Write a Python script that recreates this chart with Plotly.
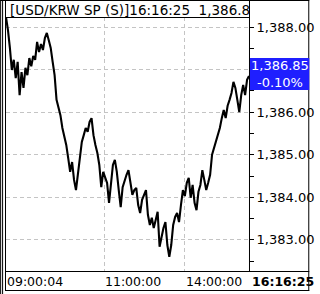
import plotly.graph_objects as go

# ---- data ----
prices = [
    1388.23, 1387.93, 1387.51, 1386.99, 1387.23, 1386.80, 1387.18, 1386.40, 1386.94, 1386.57,
    1387.04, 1386.87, 1387.27, 1387.08, 1387.32, 1387.23, 1387.65, 1387.41, 1387.60, 1387.46,
    1387.74, 1387.86, 1387.69, 1387.51, 1387.18, 1386.87, 1386.29, 1386.10, 1385.93, 1385.63,
    1385.46, 1385.23, 1384.92, 1384.60, 1384.83, 1384.41, 1384.17, 1384.60, 1384.88, 1385.30,
    1385.46, 1385.63, 1385.54, 1385.77, 1385.86, 1385.46, 1385.23, 1385.04, 1384.76, 1384.24,
    1384.60, 1384.46, 1384.34, 1383.87, 1384.41, 1384.76, 1384.88, 1384.60, 1384.17, 1383.77,
    1384.24, 1384.41, 1384.53, 1384.64, 1384.29, 1384.06, 1384.17, 1384.22, 1383.82, 1383.63,
    1383.94, 1384.06, 1384.17, 1383.59, 1383.35, 1383.52, 1383.28, 1383.47, 1383.66, 1382.84,
    1383.09, 1383.28, 1383.42, 1382.88, 1382.60, 1382.88, 1383.35, 1383.54, 1383.63, 1383.42,
    1383.82, 1384.17, 1384.03, 1384.34, 1384.46, 1383.99, 1384.29, 1383.87, 1383.70, 1384.13,
    1384.29, 1384.64, 1384.41, 1384.17, 1384.34, 1384.53, 1385.00, 1385.16, 1385.28, 1385.42,
    1385.63, 1385.86, 1386.05, 1385.86, 1386.15, 1386.29, 1386.45, 1386.71, 1386.57, 1386.29,
    1386.00, 1386.40, 1386.64, 1386.40, 1386.76, 1386.85,
]
time_labels = ["09:00:04", "11:00:00", "14:00:00"]
time_tick_index = [0, 50.5, 92]
last_time = "16:16:25"
price_ticks = [1383, 1384, 1385, 1386, 1387, 1388]
price_tick_text = ["1,383.00", "1,384.00", "1,385.00", "1,386.00", "", "1,388.00"]
title_text = "[USD/KRW SP (S)]16:16:25  1,386.8"
change_pct = -0.10

# ---- layout geometry (pixels) ----
W, H = 320, 294
L, R, T, B = 6, 64, 17, 23
PW, PH = W - L - R, H - T - B


def px(X):
    return (X - L) / PW


def py(Y):
    return 1 - (Y - T) / PH


FONT = "DejaVu Sans"
last = prices[-1]
xs = list(range(len(prices)))

fig = go.Figure()
fig.add_trace(go.Scatter(
    x=xs, y=prices, mode="lines",
    line=dict(color="black", width=2.1),
    hoverinfo="skip", showlegend=False,
))

fig.update_layout(
    width=W, height=H,
    margin=dict(l=L, r=R, t=T, b=B, pad=0),
    paper_bgcolor="white", plot_bgcolor="white",
    showlegend=False,
    xaxis=dict(
        range=[0, len(prices) - 1], tickvals=time_tick_index[1:],
        showticklabels=False, ticks="", showgrid=True,
        gridcolor="#c4c4c4", griddash="4px,3px", gridwidth=1,
        zeroline=False, showline=False, fixedrange=True,
    ),
    yaxis=dict(
        range=[1382.27, 1388.235], side="right",
        tickvals=price_ticks, ticktext=price_tick_text,
        ticks="outside", ticklen=4, tickcolor="black", tickwidth=1,
        minor=dict(dtick=0.5, ticks="outside", ticklen=4, tickcolor="black", showgrid=False),
        tickfont=dict(family=FONT, size=13, color="black"),
        showgrid=True, gridcolor="#c4c4c4", griddash="4px,3px", gridwidth=1,
        zeroline=False, showline=False, fixedrange=True,
    ),
)

black = dict(color="black", width=1)
lines = [
    (0, 0.5, 318, 0.5),
    (0.5, 0, 0.5, 294),
    (2.5, 0, 2.5, 294),
    (5.5, 0, 5.5, 291),
    (6, 17.5, 256, 17.5),
    (256.5, 0, 256.5, 271),
    (317.5, 0, 317.5, 291),
    (6, 271.5, 318, 271.5),
    (5.5, 290.5, 318, 290.5),
]
for x0, y0, x1, y1 in lines:
    fig.add_shape(type="line", xref="paper", yref="paper",
                  x0=px(x0), y0=py(y0), x1=px(x1), y1=py(y1),
                  line=black, layer="above")

# current price box
fig.add_shape(type="rect", xref="paper", yref="y",
              x0=px(257), x1=px(318), y0=last - 0.33, y1=last + 0.42,
              fillcolor="#1f1fff", line=dict(width=0), layer="above")
fig.add_annotation(xref="paper", yref="y", x=px(287.5), y=last + 0.045,
                   text=f"{last:,.2f}<br>{change_pct:.2f}%", showarrow=False,
                   xanchor="center", yanchor="middle", align="center",
                   font=dict(family=FONT, size=13, color="white"))

# title
fig.add_annotation(xref="paper", yref="paper", x=px(8), y=py(10),
                   text=title_text, showarrow=False, xanchor="left", yanchor="middle",
                   font=dict(family=FONT, size=13.5, color="black"))

# time labels
for lbl, idx in zip(time_labels, time_tick_index):
    fig.add_annotation(xref="x", yref="paper", x=idx, y=py(281.5), text=lbl,
                       showarrow=False, xanchor="left", yanchor="middle", xshift=-1,
                       font=dict(family=FONT, size=12.5, color="black"))
fig.add_annotation(xref="x", yref="paper", x=len(prices) - 1, y=py(281.5),
                   text=f"<b>{last_time}</b>", showarrow=False, xanchor="left",
                   yanchor="middle", xshift=1,
                   font=dict(family=FONT, size=12.5, color="black"))

fig.write_html("out.html", config={"displayModeBar": False})
